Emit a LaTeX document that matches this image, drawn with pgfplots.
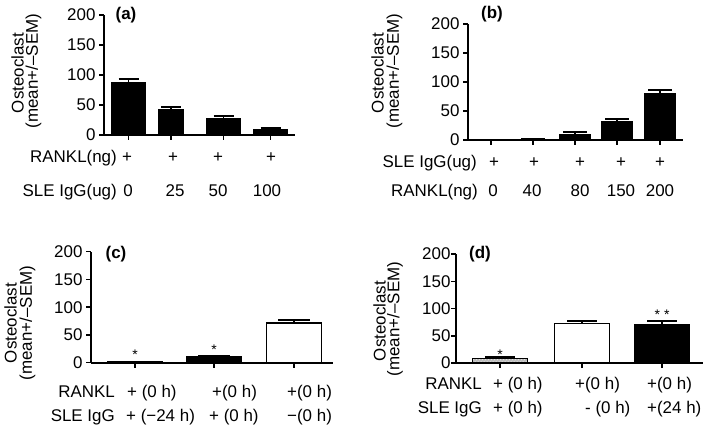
\documentclass[border=0pt]{standalone}
\usepackage{fontspec}
\setmainfont{Liberation Sans}
\usepackage{pgfplots}
\pgfplotsset{compat=1.18}
\usetikzlibrary{patterns}
\newcommand\f{\fontsize{17}{20}\selectfont}
\pgfplotsset{
 panel/.style={
  scale only axis, anchor=south west,
  axis x line=bottom, axis y line=left,
  axis line style={-, line width=1.8bp, black},
  ymin=0, ymax=200, ytick={0,50,100,150,200},
  tick align=outside, major tick length=5bp,
  tick style={black, line width=1.5bp},
  xticklabels={},
  /pgf/number format/assume math mode=true,
  yticklabel style={font=\f, anchor=east},
  clip=false,
 },
 barB/.style={ybar, bar shift=0pt, line width=1.5bp,
   error bars/y dir=plus, error bars/y explicit,
   error bars/error mark=|,
   error bars/error bar style={line width=1.8bp, black},
   error bars/error mark options={line width=1.8bp, black, mark size=#1}},
}
\tikzset{lbl/.style={font=\f, inner sep=0pt, text height=12.2bp, text depth=3.4bp},
 ylbl/.style={font=\f, inner sep=0pt, rotate=90, anchor=center},
 pl/.style={font=\f\bfseries, inner sep=0pt},
 ast/.style={font=\fontsize{14}{15}\selectfont, inner sep=0pt}}
\begin{document}
\begin{tikzpicture}[x=1bp,y=1bp]
\path[use as bounding box] (0,0) rectangle (709,427);
% ---------- (a)
\begin{axis}[panel, at={(104bp,292bp)}, width=191bp, height=120bp, xmin=104, xmax=295,
  xtick={128.5,171,223.5,270.5}]
\addplot+[barB=10bp, fill=black, draw=black, bar width=33, mark=none] coordinates {(128.5,87.2)+-(0,6.1) (223.5,27.2)+-(0,3.9) (270.5,8.3)+-(0,2.8)};
\addplot+[barB=10bp, fill=black, draw=black, bar width=24, mark=none] coordinates {(171,41.7)+-(0,4.3)};
\end{axis}
% ---------- (b)
\begin{axis}[panel, at={(468bp,287bp)}, width=215bp, height=116bp, xmin=468, xmax=683,
  xtick={491,533,575,617,660}]
\addplot+[barB=12bp, fill=black, draw=black, bar width=30, mark=none] coordinates {(491,0.2)+-(0,0) (533,1.2)+-(0,0.4) (575,9.8)+-(0,3.5) (617,31.2)+-(0,5.2) (660,80.3)+-(0,6.4)};
\end{axis}
% ---------- (c)
\begin{axis}[panel, at={(91bp,64.3bp)}, width=242bp, height=111bp, xmin=91, xmax=333,
  xtick={135,214,294}]
\addplot+[barB=16bp, fill=black, draw=black, bar width=55, mark=none] coordinates {(135,1.2)+-(0,0.4) (214,10.3)+-(0,2.7)};
\addplot+[barB=16bp, fill=white, draw=black, bar width=55, mark=none] coordinates {(294,71.4)+-(0,5.6)};
\node[ast] at (axis cs:135,14) {*};
\node[ast] at (axis cs:214,23) {*};
\end{axis}
% ---------- (d)
\begin{axis}[panel, at={(456bp,64bp)}, width=247bp, height=109bp, xmin=456, xmax=703,
  xtick={500,582,662}, yticklabel style={xshift=3bp}]
\addplot+[barB=15bp, fill=gray!55, draw=black, bar width=55, mark=none, postaction={pattern=crosshatch dots, pattern color=white}] coordinates {(500,8.3)+-(0,2.2)};
\addplot+[barB=15bp, fill=white, draw=black, bar width=55, mark=none] coordinates {(582,72.8)+-(0,5)};
\addplot+[barB=15bp, fill=black, draw=black, bar width=55, mark=none] coordinates {(662,71)+-(0,5.7)};
\node[ast] at (axis cs:500,15) {*};
\node[ast] at (axis cs:662,89) {*\hspace{4bp}*};
\end{axis}
% ---------- panel letters
\node[pl] at (126,412) {(a)};
\node[pl] at (492,413) {(b)};
\node[pl] at (116,173) {(c)};
\node[pl] at (480,173) {(d)};
% ---------- y labels
\node[ylbl] at (17.5,354) {Osteoclast};
\node[ylbl] at (33.5,356) {(mean+/–SEM)};
\node[ylbl] at (377.5,354) {Osteoclast};
\node[ylbl] at (394.5,356) {(mean+/–SEM)};
\node[ylbl] at (10.5,104) {Osteoclast};
\node[ylbl] at (27.5,104) {(mean+/–SEM)};
\node[ylbl] at (379.5,106) {Osteoclast};
\node[ylbl] at (395,108) {(mean+/–SEM)};
% ---------- (a) rows
\node[lbl, anchor=east] at (117,269) {RANKL(ng)};
\foreach \x in {127,173,218,271} \node[lbl] at (\x,269) {+};
\node[lbl, anchor=east] at (117,235) {SLE IgG(ug)};
\node[lbl] at (128,235) {0};
\node[lbl] at (175,235) {25};
\node[lbl] at (218,235) {50};
\node[lbl] at (267,235) {100};
% ---------- (b) rows
\node[lbl, anchor=east] at (477,264) {SLE IgG(ug)};
\foreach \x in {494,534,580,621,660} \node[lbl] at (\x,264) {+};
\node[lbl, anchor=east] at (478,235) {RANKL(ng)};
\node[lbl] at (493,235) {0};
\node[lbl] at (532,235) {40};
\node[lbl] at (580,235) {80};
\node[lbl] at (621,235) {150};
\node[lbl] at (660,235) {200};
% ---------- (c) rows
\node[lbl, anchor=east] at (115,34) {RANKL};
\node[lbl, anchor=west] at (127,34) {+ (0 h)};
\node[lbl, anchor=west] at (212,34) {+(0 h)};
\node[lbl, anchor=west] at (287,34) {+(0 h)};
\node[lbl, anchor=east] at (115,10) {SLE IgG};
\node[lbl, anchor=west] at (126,10) {+ (−24 h)};
\node[lbl, anchor=west] at (209,10) {+ (0 h)};
\node[lbl, anchor=west] at (287,10) {−(0 h)};
% ---------- (d) rows
\node[lbl, anchor=east] at (482,42) {RANKL};
\node[lbl, anchor=west] at (493,42) {+ (0 h)};
\node[lbl, anchor=west] at (575,42) {+(0 h)};
\node[lbl, anchor=west] at (647,42) {+(0 h)};
\node[lbl, anchor=east] at (482,18) {SLE IgG};
\node[lbl, anchor=west] at (493,18) {+ (0 h)};
\node[lbl, anchor=west] at (585,18) {- (0 h)};
\node[lbl, anchor=west] at (647,18) {+(24 h)};
\end{tikzpicture}
\end{document}
